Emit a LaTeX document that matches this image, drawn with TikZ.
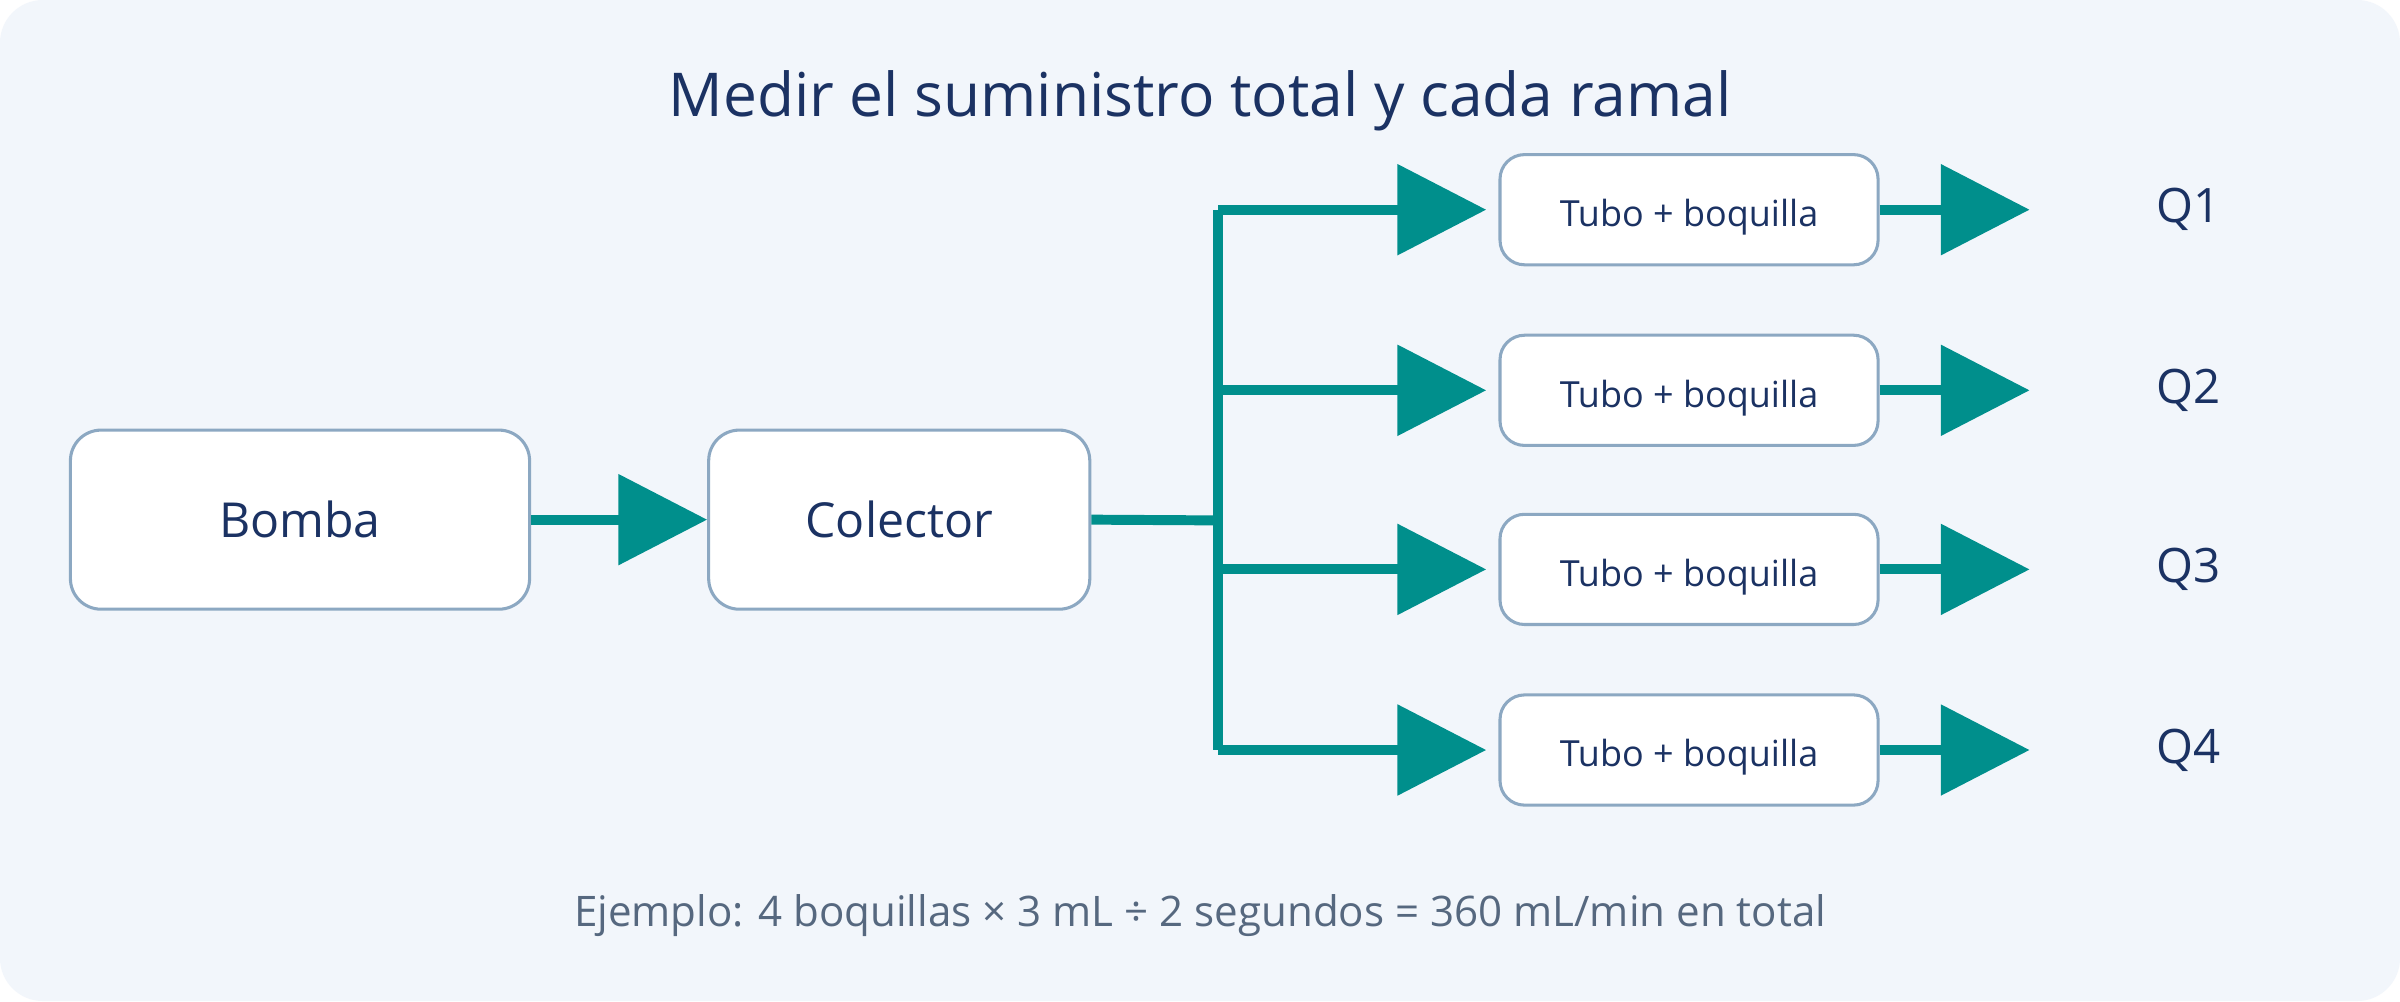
\documentclass[tikz,border=0pt]{standalone}
\usepackage{fontspec}
\setmainfont{Open Sans}
\usetikzlibrary{arrows.meta}
\definecolor{bgc}{HTML}{F2F6FB}
\definecolor{teal}{HTML}{008F8C}
\definecolor{edgec}{HTML}{8CA8C2}
\definecolor{navy}{HTML}{1B3263}
\definecolor{grayt}{HTML}{56687F}
\tikzset{
  box/.style={draw=edgec, line width=2pt, fill=white, rounded corners=20pt, text=navy, inner sep=0pt},
  bigbox/.style={box, minimum height=117pt, font=\fontsize{31.5}{36}\selectfont},
  tubebox/.style={box, minimum width=247pt, minimum height=72pt, rounded corners=16pt, font=\fontsize{23.5}{28}\selectfont, text height=22pt, text depth=0pt},
  flow/.style={draw=teal, line width=6.5pt, -{Triangle[length=58pt,width=58pt]}},
  pipe/.style={draw=teal, line width=6.5pt},
  qlabel/.style={text=navy, font=\fontsize{31}{36}\selectfont, inner sep=0pt}
}
\begin{document}
\begin{tikzpicture}[x=1pt,y=-1pt]
\useasboundingbox (0,0) rectangle (1568,654);
\fill[white] (0,0) rectangle (1568,654);
\fill[bgc, rounded corners=28pt] (0,0) rectangle (1568,654);
\node[text=navy, font=\fontsize{39.5}{46}\selectfont, inner sep=0pt, anchor=base] (title) at (784,76) {Medir el suministro total y cada ramal};
\node[bigbox, minimum width=300pt] (bomba) at (196,339.5) {Bomba};
\node[bigbox, minimum width=249pt] (colector) at (587.5,339.5) {Colector};
\draw[flow] (bomba.east) -- (colector.west);
\coordinate (j) at (796,340);
\coordinate (jt) at (796,137);
\coordinate (jb) at (796,490);
\draw[pipe] (colector.east) -- (j);
\draw[pipe] (jt) -- (jb);
\foreach \i/\y in {1/137,2/255,3/372,4/490}{
  \node[tubebox] (t\i) at (1103.5,\y) {Tubo + boquilla};
  \coordinate (b\i) at (796,\y);
  \coordinate (o\i) at (1326,\y);
  \draw[flow, shorten >=8pt] (b\i) -- (t\i.west);
  \draw[flow] (t\i.east) -- (o\i);
  \node[qlabel] (q\i) at (1430,\y) {Q\i};
}
\node[text=grayt, font=\fontsize{27.5}{32}\selectfont, inner sep=0pt, anchor=base] (foot) at (784,605) {Ejemplo: 4 boquillas × 3 mL ÷ 2 segundos = 360 mL/min en total};
\end{tikzpicture}
\end{document}
